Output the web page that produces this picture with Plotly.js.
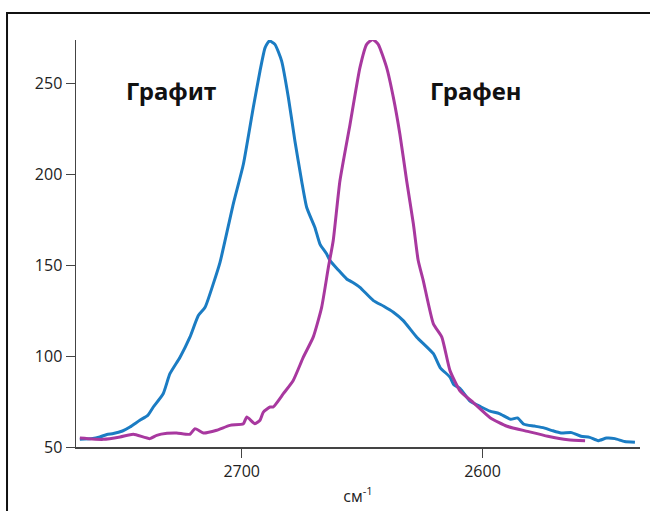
<!DOCTYPE html>
<html>
<head>
<meta charset="utf-8">
<script src="https://cdn.plot.ly/plotly-3.0.1.min.js"></script>
<style>
html,body{margin:0;padding:0;background:#fff;}
#chart{width:650px;height:511px;}
</style>
</head>
<body>
<div id="chart"></div>
<script>
// Графит (blue)
const graphiteX = [2767.2,2762.5,2758.9,2756.0,2753.3,2749.5,2746.4,2742.3,2739.0,2736.7,2732.6,2729.8,2725.6,2721.5,2718.0,2715.2,2711.8,2709.0,2703.5,2699.3,2695.2,2692.4,2690.3,2688.5,2686.2,2683.4,2680.6,2677.9,2675.1,2673.0,2669.6,2667.5,2664.7,2663.3,2660.0,2656.4,2653.5,2650.9,2645.3,2641.0,2637.0,2632.9,2627.3,2620.4,2617.6,2613.5,2612.0,2609.3,2605.2,2601.0,2596.9,2593.0,2588.3,2585.5,2582.8,2578.5,2574.5,2571.0,2567.4,2563.0,2559.1,2555.5,2552.0,2548.5,2545.0,2541.0,2536.7];
const graphiteY = [54.2,54.6,55.5,56.9,57.4,58.8,61.0,64.7,67.4,72.0,79.3,90.3,99.4,110.4,122.3,126.8,139.7,151.5,183.6,205.5,236.6,256.7,269.5,273.3,271.4,262.2,242.1,218.3,196.3,181.7,170.7,161.6,156.1,152.5,147.5,142.4,140.2,137.8,130.5,127.4,124.1,119.5,110.4,101.3,93.7,88.4,84.4,82.1,75.2,72.3,69.7,68.4,65.2,66.0,62.5,61.5,60.5,59.0,57.7,57.9,55.9,55.3,53.5,54.9,54.6,53.0,52.6];
// Графен (magenta)
const grapheneX = [2767.2,2762.0,2757.6,2750.5,2745.0,2738.1,2735.3,2731.0,2727.0,2721.5,2719.4,2715.9,2710.4,2704.9,2699.3,2697.9,2694.5,2692.4,2691.0,2688.2,2686.9,2682.7,2678.6,2674.4,2670.3,2666.8,2664.0,2662.0,2659.2,2655.0,2650.9,2648.1,2645.6,2643.3,2639.8,2637.0,2634.3,2631.5,2628.7,2626.7,2624.6,2620.4,2616.9,2613.5,2609.3,2603.7,2596.7,2589.8,2581.3,2572.9,2564.5,2557.4];
const grapheneY = [54.9,54.4,54.2,55.5,57.0,54.6,56.4,57.5,57.7,57.0,60.1,57.7,59.2,61.9,62.8,66.5,62.8,64.7,69.2,72.0,72.0,79.3,86.6,99.4,110.4,126.8,148.8,163.4,196.4,227.5,258.6,271.4,274.1,271.4,258.6,242.1,222.0,196.4,172.6,152.5,141.5,117.7,110.4,92.0,80.8,74.3,66.0,61.4,58.6,55.9,54.0,53.5];
const yTicks = [50,100,150,200,250];
const xTicks = [2700,2600];
const labelGraphite = "Графит";
const labelGraphene = "Графен";

const traces = [
  {x: graphiteX, y: graphiteY, type:'scatter', mode:'lines', line:{color:'#1b7cc3', width:3, shape:'spline', smoothing:0.5}, hoverinfo:'skip'},
  {x: grapheneX, y: grapheneY, type:'scatter', mode:'lines', line:{color:'#a8389f', width:3, shape:'spline', smoothing:0.5}, hoverinfo:'skip'}
];

const layout = {
  width:650, height:511,
  margin:{l:76, r:10, t:40, b:64},
  paper_bgcolor:'#fff', plot_bgcolor:'#fff',
  showlegend:false,
  font:{family:'Open Sans, sans-serif', color:'#222'},
  xaxis:{
    range:[2768.8, 2534.6], showgrid:false, zeroline:false,
    showline:true, linecolor:'#444', linewidth:1.5,
    ticks:'outside', ticklen:9, tickwidth:1, tickcolor:'#444',
    tickvals:xTicks, ticktext:xTicks.map(String),
    tickfont:{size:16, color:'#222', family:'Open Sans, sans-serif'},
    title:{text:'см<sup>-1</sup>', font:{size:16, color:'#222', family:'Open Sans, sans-serif'}, standoff:10}
  },
  yaxis:{
    range:[50, 273.8], showgrid:false, zeroline:false,
    showline:true, linecolor:'#444', linewidth:1.5,
    ticks:'outside', ticklen:9, tickwidth:1, tickcolor:'#444',
    tickvals:yTicks, ticktext:yTicks.map(String),
    tickfont:{size:16, color:'#222', family:'Open Sans, sans-serif'}
  },
  annotations:[
    {x:2729.4, y:245.8, xref:'x', yref:'y', text:labelGraphite, showarrow:false,
     font:{size:24, color:'#111', family:'Noto Sans, sans-serif', weight:'bold'}},
    {x:2602.7, y:245.8, xref:'x', yref:'y', text:labelGraphene, showarrow:false,
     font:{size:24, color:'#111', family:'Noto Sans, sans-serif', weight:'bold'}}
  ],
  shapes:[
    {type:'path', xref:'paper', yref:'paper',
     path:'M -0.1223 -0.3 L -0.1223 1.0663 L 1.1 1.0663',
     line:{color:'#111', width:2}}
  ]
};

Plotly.newPlot('chart', traces, layout, {staticPlot:true, displayModeBar:false});
</script>
</body>
</html>
